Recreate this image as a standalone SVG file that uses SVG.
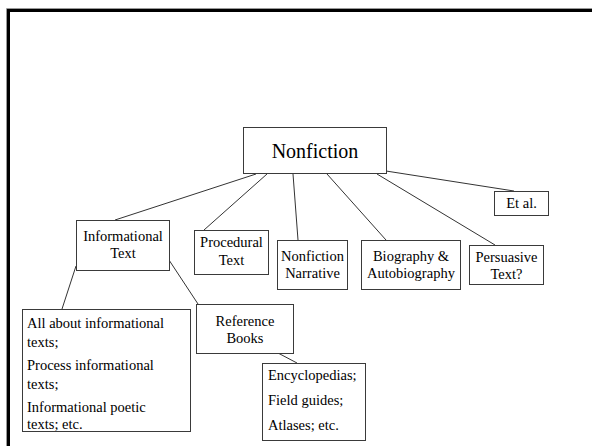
<svg xmlns="http://www.w3.org/2000/svg" width="592" height="446" viewBox="0 0 592 446">
<style>
.box{fill:#fff;stroke:#3a3a3a;stroke-width:1}
.c{text-anchor:middle}
.conn line{stroke:#333;stroke-width:1}
</style>
<rect width="592" height="446" fill="#fff"/>
<g id="frame" fill="none">
<path d="M6.5,446 V8.5 H592" stroke="#999" stroke-width="1"/>
<path d="M8.5,446 V10.5 H592" stroke="#000" stroke-width="3"/>
</g>
<g id="connectors" class="conn">
<line x1="256" y1="174" x2="115" y2="220"/>
<line x1="267" y1="174" x2="204" y2="230"/>
<line x1="293" y1="174" x2="298" y2="240"/>
<line x1="327" y1="174" x2="386" y2="240"/>
<line x1="377" y1="174" x2="495" y2="245"/>
<line x1="386" y1="171" x2="514" y2="191"/>
<line x1="76" y1="266" x2="62" y2="309"/>
<line x1="169" y1="260" x2="198" y2="304"/>
<line x1="278" y1="353" x2="297" y2="363"/>
</g>
<g font-family="Liberation Serif" font-size="14.5" fill="#000">
<g id="nonfiction">
<rect class="box" x="243.5" y="127.5" width="143" height="46"/>
<text class="c" x="315" y="158" font-size="20">Nonfiction</text>
</g>
<g id="etal">
<rect class="box" x="494.5" y="191.5" width="54" height="24"/>
<text class="c" x="521.5" y="208">Et al.</text>
</g>
<g id="informational">
<rect class="box" x="76.5" y="220.5" width="93" height="50"/>
<text class="c" x="123" y="241">Informational</text>
<text class="c" x="123" y="258">Text</text>
</g>
<g id="procedural">
<rect class="box" x="194.5" y="230.5" width="74" height="44"/>
<text class="c" x="231.5" y="247">Procedural</text>
<text class="c" x="231.5" y="265">Text</text>
</g>
<g id="narrative">
<rect class="box" x="277.5" y="240.5" width="70" height="49"/>
<text class="c" x="312.5" y="261">Nonfiction</text>
<text class="c" x="312.5" y="278">Narrative</text>
</g>
<g id="biography">
<rect class="box" x="361.5" y="240.5" width="99" height="49"/>
<text class="c" x="411" y="261">Biography &amp;</text>
<text class="c" x="411" y="278">Autobiography</text>
</g>
<g id="persuasive">
<rect class="box" x="469.5" y="245.5" width="74" height="39"/>
<text class="c" x="506.5" y="262">Persuasive</text>
<text class="c" x="506.5" y="279">Text?</text>
</g>
<g id="allabout">
<rect class="box" x="22.5" y="309.5" width="168" height="122"/>
<text x="27" y="328">All about informational</text>
<text x="27" y="347">texts;</text>
<text x="27" y="370">Process informational</text>
<text x="27" y="389">texts;</text>
<text x="27" y="412">Informational poetic</text>
<text x="27" y="429">texts; etc.</text>
</g>
<g id="reference">
<rect class="box" x="196.5" y="304.5" width="97" height="49"/>
<text class="c" x="245" y="326">Reference</text>
<text class="c" x="245" y="343">Books</text>
</g>
<g id="encyclopedias">
<rect class="box" x="262.5" y="363.5" width="103" height="77"/>
<text x="268" y="380">Encyclopedias;</text>
<text x="268" y="405">Field guides;</text>
<text x="268" y="430">Atlases; etc.</text>
</g>
</g>
</svg>
